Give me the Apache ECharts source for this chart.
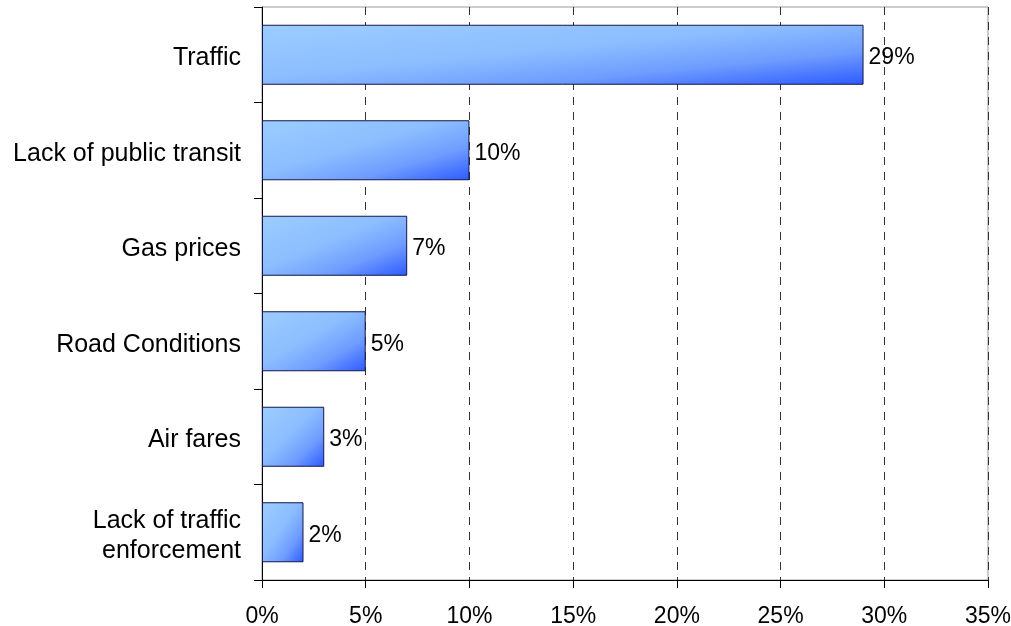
<!DOCTYPE html>
<html><head><meta charset="utf-8">
<script src="https://cdn.jsdelivr.net/npm/echarts@6/dist/echarts.min.js"></script>
<style>html,body{margin:0;padding:0;background:#fff}#c{width:1011px;height:626px}</style>
</head><body><div id="c"></div>
<script>
const categories = ["Traffic", "Lack of public transit", "Gas prices", "Road Conditions", "Air fares", "Lack of traffic\nenforcement"];
const values = [29, 10, 7, 5, 3, 2];
const xTicks = { min: 0, max: 35, interval: 5 };

const BAR_H = 60;
const chart = echarts.init(document.getElementById('c'));
const font = 'Liberation Sans, Arial, sans-serif';
const stops = [
  { offset: 0, color: '#9ccdff' },
  { offset: 0.45, color: '#8cbdff' },
  { offset: 0.72, color: '#6e9cff' },
  { offset: 1, color: '#2c5aff' }
];
const baseOption = {
  animation: false,
  grid: { left: 262, right: 23, top: 7, bottom: 46, outerBoundsMode: 'none', containLabel: false,
          show: true, borderColor: '#9a9a9a', borderWidth: 1 },
  xAxis: {
    type: 'value', min: xTicks.min, max: xTicks.max, interval: xTicks.interval,
    axisLine: { show: true, lineStyle: { color: '#000', width: 1 } },
    axisTick: { show: true, length: 8, lineStyle: { color: '#000' } },
    axisLabel: { formatter: '{value}%', color: '#000', fontSize: 23, fontFamily: font, margin: 25 },
    splitLine: { show: true, lineStyle: { type: [8, 7], color: '#333', width: 1 } }
  },
  yAxis: {
    type: 'category', data: categories, inverse: true,
    axisLine: { show: true, lineStyle: { color: '#000', width: 1 } },
    axisTick: { show: true, length: 8, lineStyle: { color: '#000' } },
    axisLabel: {
      color: '#000', fontSize: 25, fontFamily: font, margin: 21, align: 'right',
      formatter: function (v) {
        return v.split('\n').map(function (s) { return '{a|' + s + '}'; }).join('\n');
      },
      rich: { a: { fontSize: 25, fontFamily: font, color: '#000', lineHeight: 30, padding: [7, 0, 0, 0] } }
    },
    splitLine: { show: false }
  },
  series: [{
    type: 'bar', data: values, barWidth: BAR_H,
    itemStyle: { borderColor: '#16164a', borderWidth: 1, color: '#8cbdff' },
    label: { show: true, position: 'right', distance: 5, offset: [0, 3], formatter: '{c}%', color: '#000', fontSize: 23, fontFamily: font }
  }]
};
chart.setOption(baseOption);

// Stretched diagonal gradient (isolines follow the box anti-diagonal)
const data = values.map(function (v, i) {
  const p0 = chart.convertToPixel({ seriesIndex: 0 }, [0, i]);
  const p1 = chart.convertToPixel({ seriesIndex: 0 }, [v, i]);
  const w = Math.max(1, p1[0] - p0[0]);
  const h = BAR_H;
  const d = h * h + w * w;
  const x2 = 2 * h * h / d;
  const y2 = 2 * w * w / d;
  return {
    value: v,
    itemStyle: { color: new echarts.graphic.LinearGradient(0, 0, x2, y2, stops) }
  };
});
chart.setOption({ series: [{ data: data }] });
</script></body></html>
